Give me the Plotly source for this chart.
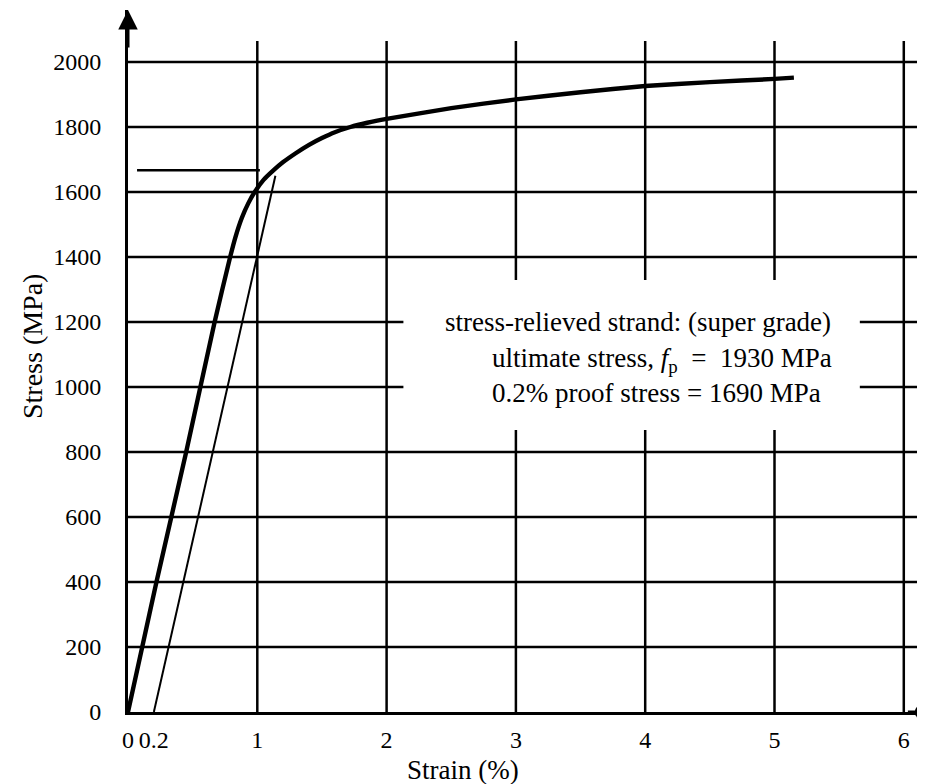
import plotly.graph_objects as go

# ---- data ----
strain = [0, 0.11, 0.22, 0.45, 0.67, 0.79, 0.83, 0.88, 0.93, 0.98, 1.05, 1.12,
          1.2, 1.3, 1.4, 1.5, 1.6, 1.72, 1.85, 2.0, 2.5, 3.0, 3.5, 4.0, 4.5, 5.0, 5.15]
stress = [0, 200, 400, 800, 1200, 1400, 1460, 1520, 1565, 1600, 1638, 1665,
          1692, 1720, 1745, 1766, 1784, 1800, 1813, 1825, 1858, 1885, 1907, 1926, 1938, 1948, 1952]

offset_strain = [0.2, 1.14]
offset_stress = [0, 1650]

proof_strain = [0.07, 1.02]
proof_stress = [1667, 1667]

x_ticks = [0, 0.2, 1, 2, 3, 4, 5, 6]
x_ticktext = ["0", "0.2", "1", "2", "3", "4", "5", "6"]
x_grid = [1, 2, 3, 4, 5, 6]
y_ticks = [0, 200, 400, 600, 800, 1000, 1200, 1400, 1600, 1800, 2000]
y_grid = [200, 400, 600, 800, 1000, 1200, 1400, 1600, 1800, 2000]

note_lines = [
    "stress-relieved strand: (super grade)",
    "ultimate stress, <i>f</i><sub>p</sub>&nbsp; = &nbsp;1930 MPa",
    "0.2% proof stress = 1690 MPa",
]

FONT = "Liberation Serif, Times New Roman, serif"
X_MAX = 6.164
Y_MAX = 2160
GRID_X_END = 6.11
GRID_Y_END = 2065

fig = go.Figure()

fig.add_trace(go.Scatter(x=strain, y=stress, mode="lines",
                         line=dict(color="black", width=4.4, shape="spline", smoothing=0.5),
                         hoverinfo="skip", showlegend=False))
fig.add_trace(go.Scatter(x=offset_strain, y=offset_stress, mode="lines",
                         line=dict(color="black", width=2), showlegend=False))
fig.add_trace(go.Scatter(x=proof_strain, y=proof_stress, mode="lines",
                         line=dict(color="black", width=2.6), showlegend=False))

shapes = []
for gy in y_grid:
    shapes.append(dict(type="line", xref="x", yref="y", x0=0, x1=GRID_X_END, y0=gy, y1=gy,
                       line=dict(color="black", width=2.5), layer="below"))
for gx in x_grid:
    shapes.append(dict(type="line", xref="x", yref="y", x0=gx, x1=gx, y0=0, y1=GRID_Y_END,
                       line=dict(color="black", width=2.5), layer="below"))
# white box behind the note text
shapes.append(dict(type="rect", xref="x", yref="y", x0=2.13, x1=5.66, y0=868, y1=1329,
                   fillcolor="white", line=dict(width=0), layer="below"))

annotations = []
note_pos = [(2.436, 1200), (2.80, 1083), (2.80, 982)]
for txt, (ax_, ay_) in zip(note_lines, note_pos):
    annotations.append(dict(x=ax_, y=ay_, xref="x", yref="y", text=txt, showarrow=False,
                            xanchor="left", yanchor="middle",
                            font=dict(family=FONT, size=27, color="black")))
# axis titles
annotations.append(dict(x=(463 - 128) / 797, y=-0.0826, xref="paper", yref="paper",
                        text="Strain (%)", showarrow=False, xanchor="center", yanchor="middle",
                        font=dict(family=FONT, size=27, color="black")))
annotations.append(dict(x=(32 - 128) / 797, y=(712 - 347) / 702, xref="paper", yref="paper",
                        text="Stress (MPa)", showarrow=False, textangle=-90,
                        xanchor="center", yanchor="middle",
                        font=dict(family=FONT, size=28, color="black")))
# axis arrowheads
annotations.append(dict(x=0, y=Y_MAX, ax=0, ay=Y_MAX - 120, xref="x", yref="y",
                        axref="x", ayref="y", showarrow=True, arrowhead=2, arrowsize=1.3,
                        arrowwidth=3, arrowcolor="black", text=""))
annotations.append(dict(x=6.14, y=0, ax=6.02, ay=0, xref="x", yref="y",
                        axref="x", ayref="y", showarrow=True, arrowhead=6, arrowsize=1.2,
                        arrowwidth=3, arrowcolor="black", text=""))

# the page body adds an 8px margin, so the figure is shifted by 8px; compensate
fig.update_layout(
    width=917, height=776,
    margin=dict(l=120, r=0, t=2, b=72),
    paper_bgcolor="white", plot_bgcolor="white",
    shapes=shapes, annotations=annotations,
    showlegend=False,
    font=dict(family=FONT, color="black"),
)
fig.update_xaxes(range=[0, X_MAX], tickvals=x_ticks, ticktext=x_ticktext,
                 showgrid=False, zeroline=False, showline=True, linecolor="black", linewidth=3,
                 ticks="", ticklabelstandoff=4, automargin=False,
                 tickfont=dict(family=FONT, size=24, color="black"))
fig.update_yaxes(range=[0, Y_MAX], tickvals=y_ticks,
                 showgrid=False, zeroline=False, showline=True, linecolor="black", linewidth=3,
                 ticks="", ticklabelstandoff=19, automargin=False,
                 tickfont=dict(family=FONT, size=24, color="black"))

fig.write_html("out.html")
